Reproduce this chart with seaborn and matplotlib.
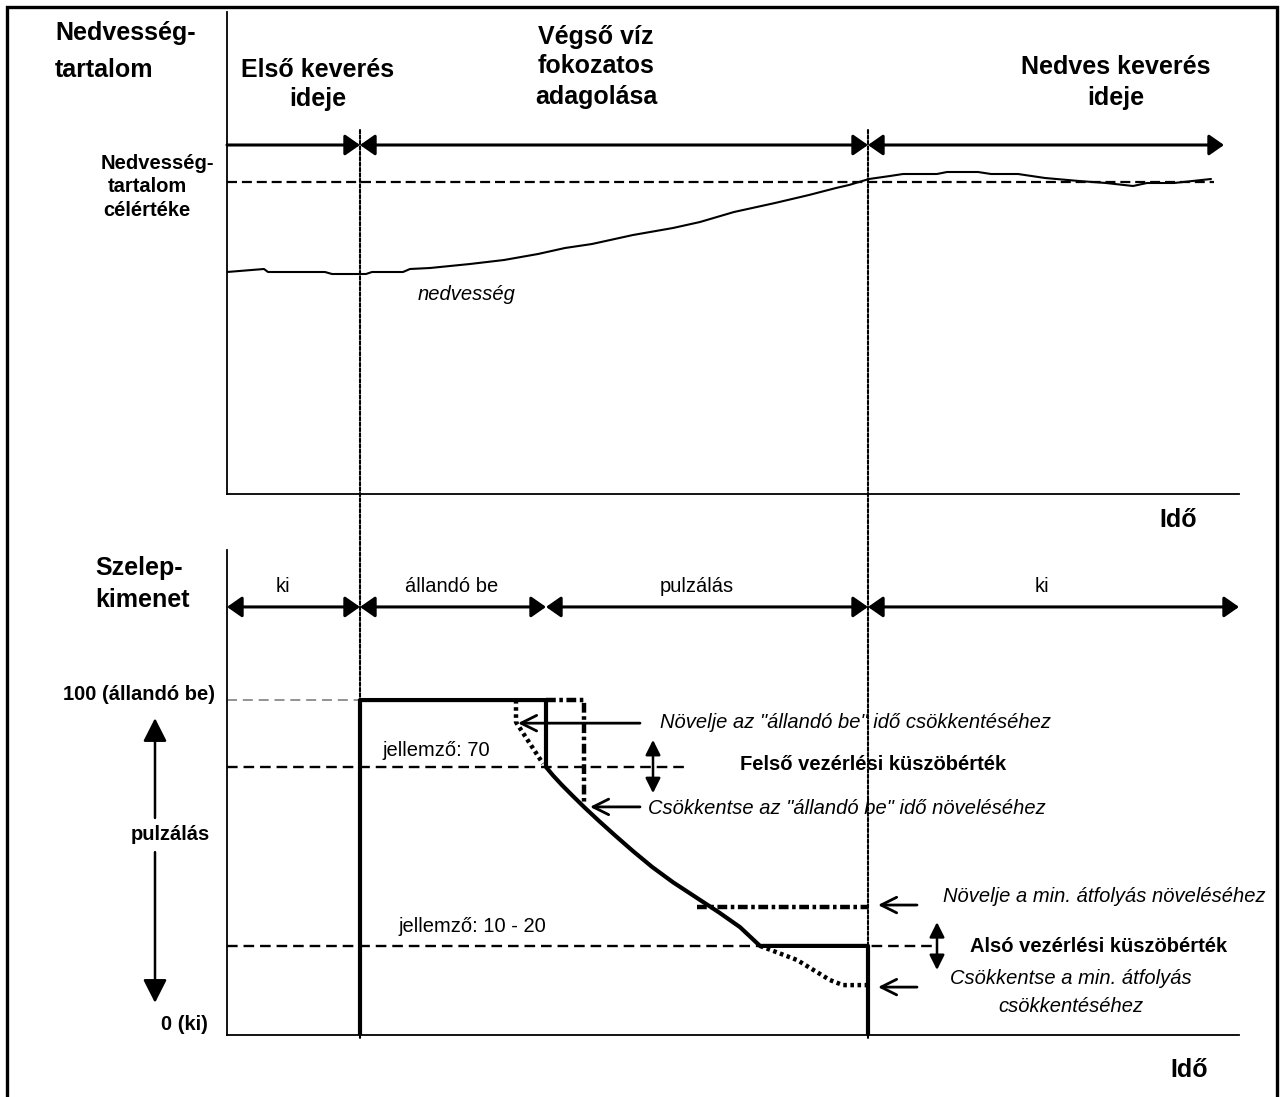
import matplotlib
matplotlib.use("Agg")
import matplotlib.pyplot as plt
from matplotlib.patches import Rectangle, ConnectionPatch
import seaborn as sns

# ---- data (time in arbitrary units, moisture / valve output in %) ----
phase_ends = [13.3, 31.9, 64.1]          # first mix end, constant-on end, final water end
time_end = 101.2

moist_t = [0, 3.7, 4.1, 9.8, 10.5, 13.9, 14.5, 17.6, 18.3, 20.3, 24.3, 27.7, 31.1,
           33.8, 36.5, 40.6, 44.6, 47.3, 50.7, 54.8, 58.2, 60.9, 62.2, 64.2, 66.3,
           67.6, 71.0, 72.0, 75.1, 76.4, 79.1, 81.8, 85.2, 87.9, 90.6, 92.0, 94.7, 98.4]
moist_v = [22.2, 22.5, 22.2, 22.2, 22.0, 22.0, 22.2, 22.2, 22.5, 22.6, 23.0, 23.4, 24.0,
           24.6, 25.0, 25.9, 26.6, 27.2, 28.2, 29.1, 29.9, 30.6, 30.9, 31.5, 31.8,
           32.0, 32.0, 32.2, 32.2, 32.0, 32.0, 31.6, 31.3, 31.1, 30.8, 31.1, 31.1, 31.5]
moist_target = 31.2
target_end = 98.7

valve_t = [13.3, 13.3, 31.9, 31.9, 32.6, 33.5, 34.6, 35.8, 37.2, 38.8, 40.6, 42.5,
           44.6, 46.8, 49.2, 51.3, 53.3, 64.1, 64.1]
valve_v = [0, 100, 100, 80, 77.5, 74.6, 71.3, 67.8, 63.9, 59.6, 54.9, 50.2,
           45.6, 41.3, 36.6, 32.2, 26.6, 26.6, 0]
upper_thr = 80
lower_thr = 26.6
upper_thr_end = 46.0
lower_thr_end = 70.8

# alternative curves (threshold changes)
on_longer_t = [31.9, 35.7, 35.7]
on_longer_v = [100, 100, 68.7]
on_shorter_t = [28.9, 28.9, 31.6]
on_shorter_v = [100, 93.4, 81.0]
min_up_t = [47.0, 64.1]
min_up_v = [38.2, 38.2]
min_down_t = [53.3, 57.0, 60.3, 61.6, 64.1]
min_down_v = [26.6, 22.4, 16.4, 14.9, 14.9]

W, H = 1282, 1097

sns.set_theme(style="white")
plt.rcParams["font.family"] = ["Liberation Sans", "DejaVu Sans"]

fig = plt.figure(figsize=(W / 100, H / 100), dpi=100)


def fpos(x, y):
    return x / W, 1 - y / H


def ftext(x, y, s, size=14.5, weight="normal", style="normal", ha="left"):
    fig.text(*fpos(x, y), s, fontsize=size, fontweight=weight, fontstyle=style,
             ha=ha, va="center", color="black")


def arrow(ax, x0, y0, x1, y1, style="<|-|>,head_length=0.5,head_width=0.35",
          lw=2.2, ms=18):
    ax.annotate("", xy=(x1, y1), xytext=(x0, y0), annotation_clip=False,
                arrowprops=dict(arrowstyle=style, lw=lw, color="black",
                                shrinkA=0, shrinkB=0, mutation_scale=ms))


# outer frame
fig.add_artist(Rectangle(fpos(7, 1105), (1277 - 7) / W, (1105 - 7) / H,
                         transform=fig.transFigure, fill=False,
                         lw=2.4, edgecolor="black"))

ax_top = fig.add_axes([227 / W, 1 - 494 / H, (1239 - 227) / W, (494 - 12) / H])
ax_bot = fig.add_axes([227 / W, 1 - 1035 / H, (1239 - 227) / W, (1035 - 550) / H])

for ax in (ax_top, ax_bot):
    ax.set_xlim(0, time_end)
    ax.set_xticks([])
    ax.set_yticks([])
    ax.patch.set_alpha(0)
    sns.despine(ax=ax)
    for sp in ("left", "bottom"):
        ax.spines[sp].set_linewidth(1.3)
        ax.spines[sp].set_color("black")
ax_top.set_ylim(0, 48.2)
ax_bot.set_ylim(0, 144.8)

# ---------- top panel: moisture ----------
sns.lineplot(x=moist_t, y=moist_v, ax=ax_top, color="black", lw=1.5,
             sort=False, estimator=None)
ax_top.plot([0, target_end], [moist_target, moist_target], color="black",
            lw=1.6, linestyle=(0, (4.5, 2.2)))

row_top = 34.9
arrow(ax_top, 0, row_top, phase_ends[0], row_top,
      style="-|>,head_length=0.5,head_width=0.35")
arrow(ax_top, phase_ends[0], row_top, phase_ends[2], row_top)
arrow(ax_top, phase_ends[2], row_top, 99.7, row_top)

# phase boundaries across both panels
for t in (phase_ends[0], phase_ends[2]):
    fig.add_artist(ConnectionPatch(xyA=(t, 36.4), coordsA=ax_top.transData,
                                   xyB=(t, -1.0), coordsB=ax_bot.transData,
                                   color="black", lw=1.5, linestyle=(0, (1.6, 1.0))))

# ---------- bottom panel: valve output ----------
ax_bot.plot([0, phase_ends[0]], [100, 100], color="gray", lw=1.2,
            linestyle=(0, (6, 3.5)))
ax_bot.plot([0, upper_thr_end], [upper_thr, upper_thr], color="black", lw=1.7,
            linestyle=(0, (4.5, 2.5)))
ax_bot.plot([0, lower_thr_end], [lower_thr, lower_thr], color="black", lw=1.7,
            linestyle=(0, (4.5, 2.5)))

ax_bot.plot(on_longer_t, on_longer_v, color="black", lw=3.2,
            linestyle=(0, (2.2, 0.8, 0.8, 0.8)))
ax_bot.plot(min_up_t, min_up_v, color="black", lw=3.2,
            linestyle=(0, (2.2, 0.8, 0.8, 0.8)))
ax_bot.plot(on_shorter_t, on_shorter_v, color="black", lw=3.2,
            linestyle=(0, (0.8, 0.8)))
ax_bot.plot(min_down_t, min_down_v, color="black", lw=3.2,
            linestyle=(0, (0.8, 0.8)))

sns.lineplot(x=valve_t, y=valve_v, ax=ax_bot, color="black", lw=3,
             sort=False, estimator=None)

row_bot = 127.8
arrow(ax_bot, 0, row_bot, phase_ends[0], row_bot)
arrow(ax_bot, phase_ends[0], row_bot, phase_ends[1], row_bot)
arrow(ax_bot, phase_ends[1], row_bot, phase_ends[2], row_bot)
arrow(ax_bot, phase_ends[2], row_bot, time_end, row_bot)

# pointer arrows for the threshold hints
ptr = "->,head_length=0.7,head_width=0.35"
arrow(ax_bot, 41.3, 93.1, 29.1, 93.1, style=ptr, lw=2.0, ms=16)
arrow(ax_bot, 41.3, 68.1, 36.3, 68.1, style=ptr, lw=2.0, ms=16)
arrow(ax_bot, 69.0, 38.8, 65.1, 38.8, style=ptr, lw=2.0, ms=16)
arrow(ax_bot, 69.0, 14.3, 65.1, 14.3, style=ptr, lw=2.0, ms=16)
dbl = "<|-|>,head_length=0.6,head_width=0.3"
arrow(ax_bot, 42.6, 72.2, 42.6, 88.1, style=dbl, lw=1.8, ms=15)
arrow(ax_bot, 71.0, 19.4, 71.0, 33.7, style=dbl, lw=1.8, ms=15)

# left "pulzálás" range arrows
arrow(ax_bot, -7.2, 64.8, -7.2, 94.6, style="-|>,head_length=0.75,head_width=0.38",
      lw=1.8, ms=19)
arrow(ax_bot, -7.2, 54.6, -7.2, 9.6, style="-|>,head_length=0.75,head_width=0.38",
      lw=1.8, ms=19)

# ---------- texts ----------
big = 18
ftext(55, 33, "Nedvesség-", size=big, weight="bold")
ftext(55, 70, "tartalom", size=big, weight="bold")
ftext(318, 70, "Első keverés", size=big, weight="bold", ha="center")
ftext(318, 99, "ideje", size=big, weight="bold", ha="center")
ftext(596, 37, "Végső víz", size=big, weight="bold", ha="center")
ftext(596, 66, "fokozatos", size=big, weight="bold", ha="center")
ftext(596, 97, "adagolása", size=big, weight="bold", ha="center")
ftext(1116, 67, "Nedves keverés", size=big, weight="bold", ha="center")
ftext(1116, 98, "ideje", size=big, weight="bold", ha="center")
ftext(157, 163, "Nedvesség-", weight="bold", ha="center")
ftext(147, 187, "tartalom", weight="bold", ha="center")
ftext(147, 210, "célértéke", weight="bold", ha="center")
ftext(467, 295, "nedvesség", style="italic", ha="center")
ftext(1178, 520, "Idő", size=big, weight="bold", ha="center")

ftext(95, 568, "Szelep-", size=big, weight="bold")
ftext(95, 600, "kimenet", size=big, weight="bold")
ftext(283, 587, "ki", ha="center")
ftext(452, 587, "állandó be", ha="center")
ftext(697, 587, "pulzálás", ha="center")
ftext(1042, 587, "ki", ha="center")
ftext(215, 695, "100 (állandó be)", weight="bold", ha="right")
ftext(170, 835, "pulzálás", weight="bold", ha="center")
ftext(208, 1025, "0 (ki)", weight="bold", ha="right")
ftext(382, 750, "jellemző: 70")
ftext(398, 927, "jellemző: 10 - 20")
ftext(660, 723, "Növelje az \"állandó be\" idő csökkentéséhez", style="italic")
ftext(740, 765, "Felső vezérlési küszöbérték", weight="bold")
ftext(648, 808, "Csökkentse az \"állandó be\" idő növeléséhez", style="italic")
ftext(943, 897, "Növelje a min. átfolyás növeléséhez", style="italic")
ftext(970, 947, "Alsó vezérlési küszöbérték", weight="bold")
ftext(1071, 979, "Csökkentse a min. átfolyás", style="italic", ha="center")
ftext(1071, 1007, "csökkentéséhez", style="italic", ha="center")
ftext(1189, 1070, "Idő", size=big, weight="bold", ha="center")

fig.savefig("out.png", dpi=100)
plt.close(fig)
